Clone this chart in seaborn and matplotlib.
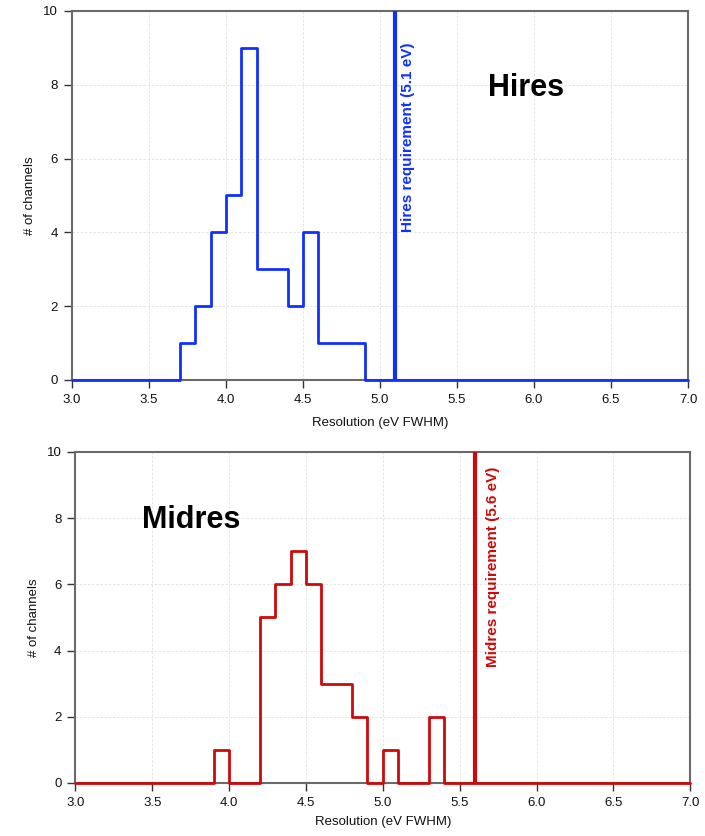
import numpy as np
import pandas as pd
import matplotlib
matplotlib.use("Agg")
import matplotlib.pyplot as plt
import seaborn as sns

# ---- data ----
bin_width = 0.1
x_range = (3.0, 7.0)

hires_bin_left = [3.7, 3.8, 3.9, 4.0, 4.1, 4.2, 4.3, 4.4, 4.5, 4.6, 4.7, 4.8]
hires_counts = [1, 2, 4, 5, 9, 3, 3, 2, 4, 1, 1, 1]
hires_req = 5.1

midres_bin_left = [3.9, 4.2, 4.3, 4.4, 4.5, 4.6, 4.7, 4.8, 5.0, 5.3]
midres_counts = [1, 5, 6, 7, 6, 3, 3, 2, 1, 2]
midres_req = 5.6

x_ticks = [3.0, 3.5, 4.0, 4.5, 5.0, 5.5, 6.0, 6.5, 7.0]
y_ticks = [0, 2, 4, 6, 8, 10]

sns.set_style("white")
plt.rcParams['font.family'] = ['Liberation Sans', 'DejaVu Sans']

fig = plt.figure(figsize=(7.05, 8.36), dpi=100)
ax1 = fig.add_axes([0.102, 0.5455, 0.874, 0.4415])
ax2 = fig.add_axes([0.107, 0.0634, 0.872, 0.396])

n_bins = int(round((x_range[1] - x_range[0]) / bin_width))
edges = [round(x_range[0] + i * bin_width, 2) for i in range(n_bins + 1)]


def full_counts(lefts, counts):
    full = [0] * n_bins
    for l, c in zip(lefts, counts):
        full[int(round((l - x_range[0]) / bin_width))] = c
    return full + [full[-1]]


def draw(ax, lefts, counts, color, req, req_label, req_text_xy, name, name_xy, xlabelpad):
    df = pd.DataFrame({"edge": edges, "count": full_counts(lefts, counts)})
    sns.lineplot(data=df, x="edge", y="count", drawstyle="steps-post",
                 color=color, linewidth=2.0, ax=ax, zorder=4, clip_on=False)
    ax.axvline(req, color=color, linewidth=3, zorder=4)
    ax.text(req_text_xy[0], req_text_xy[1], req_label, rotation=90, color=color,
            fontsize=11, fontweight="bold", ha="center", va="bottom")
    ax.text(name_xy[0], name_xy[1], name, fontsize=22, fontweight="bold",
            ha="center", va="center", color="black")
    ax.set_xlim(*x_range)
    ax.set_ylim(0, 10)
    ax.set_xticks(x_ticks)
    ax.set_xticklabels([f"{t:.1f}" for t in x_ticks], fontsize=9.5, color="#111111")
    ax.set_yticks(y_ticks)
    ax.set_yticklabels([str(t) for t in y_ticks], fontsize=9.5, color="#111111")
    ax.set_xlabel("Resolution (eV FWHM)", fontsize=9.5, labelpad=xlabelpad, color="#111111")
    ax.set_ylabel("# of channels", fontsize=9.5, labelpad=5, color="#111111")
    ax.grid(True, color="#e0e0e0", linestyle=(0, (3, 2)), linewidth=0.6)
    ax.set_axisbelow(True)
    for s in ax.spines.values():
        s.set_color("#6a6a6a")
        s.set_linewidth(1.5)
    ax.tick_params(axis="both", direction="out", length=6, width=1,
                   color="#333333", pad=4, bottom=True, left=True)


draw(ax1, hires_bin_left, hires_counts, "#1030ff", hires_req,
     "Hires requirement (5.1 eV)", (5.18, 4.0), "Hires", (5.95, 7.9), 8)
draw(ax2, midres_bin_left, midres_counts, "#cc0a0a", midres_req,
     "Midres requirement (5.6 eV)", (5.715, 3.5), "Midres", (3.75, 7.95), 5)

fig.savefig("out.png", dpi=100)
